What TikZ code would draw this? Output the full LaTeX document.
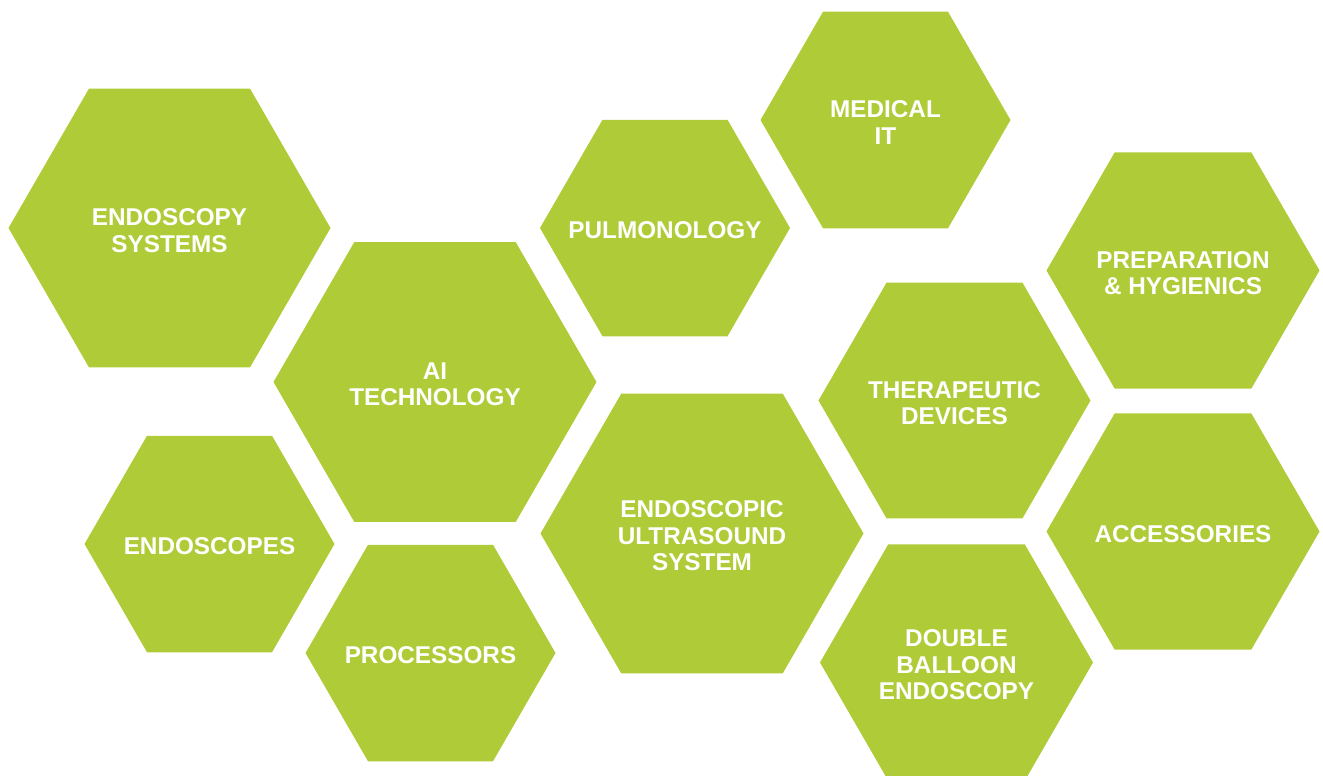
\documentclass[tikz,border=0pt]{standalone}
\usepackage{fontspec}
\setmainfont{Liberation Sans}
\definecolor{hexgreen}{RGB}{175,203,55}
\tikzset{
  hexfill/.style={fill=hexgreen, draw=none},
  hextext/.style={text=white, align=center, inner sep=0pt, yshift=-2.5pt,
    font=\fontsize{24.3}{26.5}\selectfont\bfseries}
}
% #1 name, #2 cx, #3 cy, #4 half width (circumradius), #5 text
\newcommand{\hexcell}[5]{%
  \fill[hexfill] ({#2-#4},#3) -- ({#2-#4/2},{#3-0.866*#4}) -- ({#2+#4/2},{#3-0.866*#4})
    -- ({#2+#4},#3) -- ({#2+#4/2},{#3+0.866*#4}) -- ({#2-#4/2},{#3+0.866*#4}) -- cycle;
  \node[hextext] (#1) at (#2,#3) {#5};}
\begin{document}
\begin{tikzpicture}[x=1pt,y=-1pt]
\useasboundingbox (0,0) rectangle (1323,776);
\clip (0,0) rectangle (1323,776);
\hexcell{es}{169.5}{228}{161}{ENDOSCOPY\\SYSTEMS}
\hexcell{ai}{435}{382}{161.5}{AI\\TECHNOLOGY}
\hexcell{scopes}{209.5}{544}{125}{ENDOSCOPES}
\hexcell{proc}{430.5}{653}{125}{PROCESSORS}
\hexcell{pulm}{665}{228}{125}{PULMONOLOGY}
\hexcell{med}{885.5}{120}{125}{MEDICAL\\IT}
\hexcell{eus}{702}{533.5}{161.5}{ENDOSCOPIC\\ULTRASOUND\\SYSTEM}
\hexcell{ther}{954.5}{400.5}{136}{THERAPEUTIC\\DEVICES}
\hexcell{prep}{1183}{270.5}{136.5}{PREPARATION\\\& HYGIENICS}
\hexcell{acc}{1183}{531.5}{136.5}{ACCESSORIES}
\hexcell{dbe}{956.5}{662.5}{136.5}{DOUBLE\\BALLOON\\ENDOSCOPY}
\end{tikzpicture}
\end{document}
